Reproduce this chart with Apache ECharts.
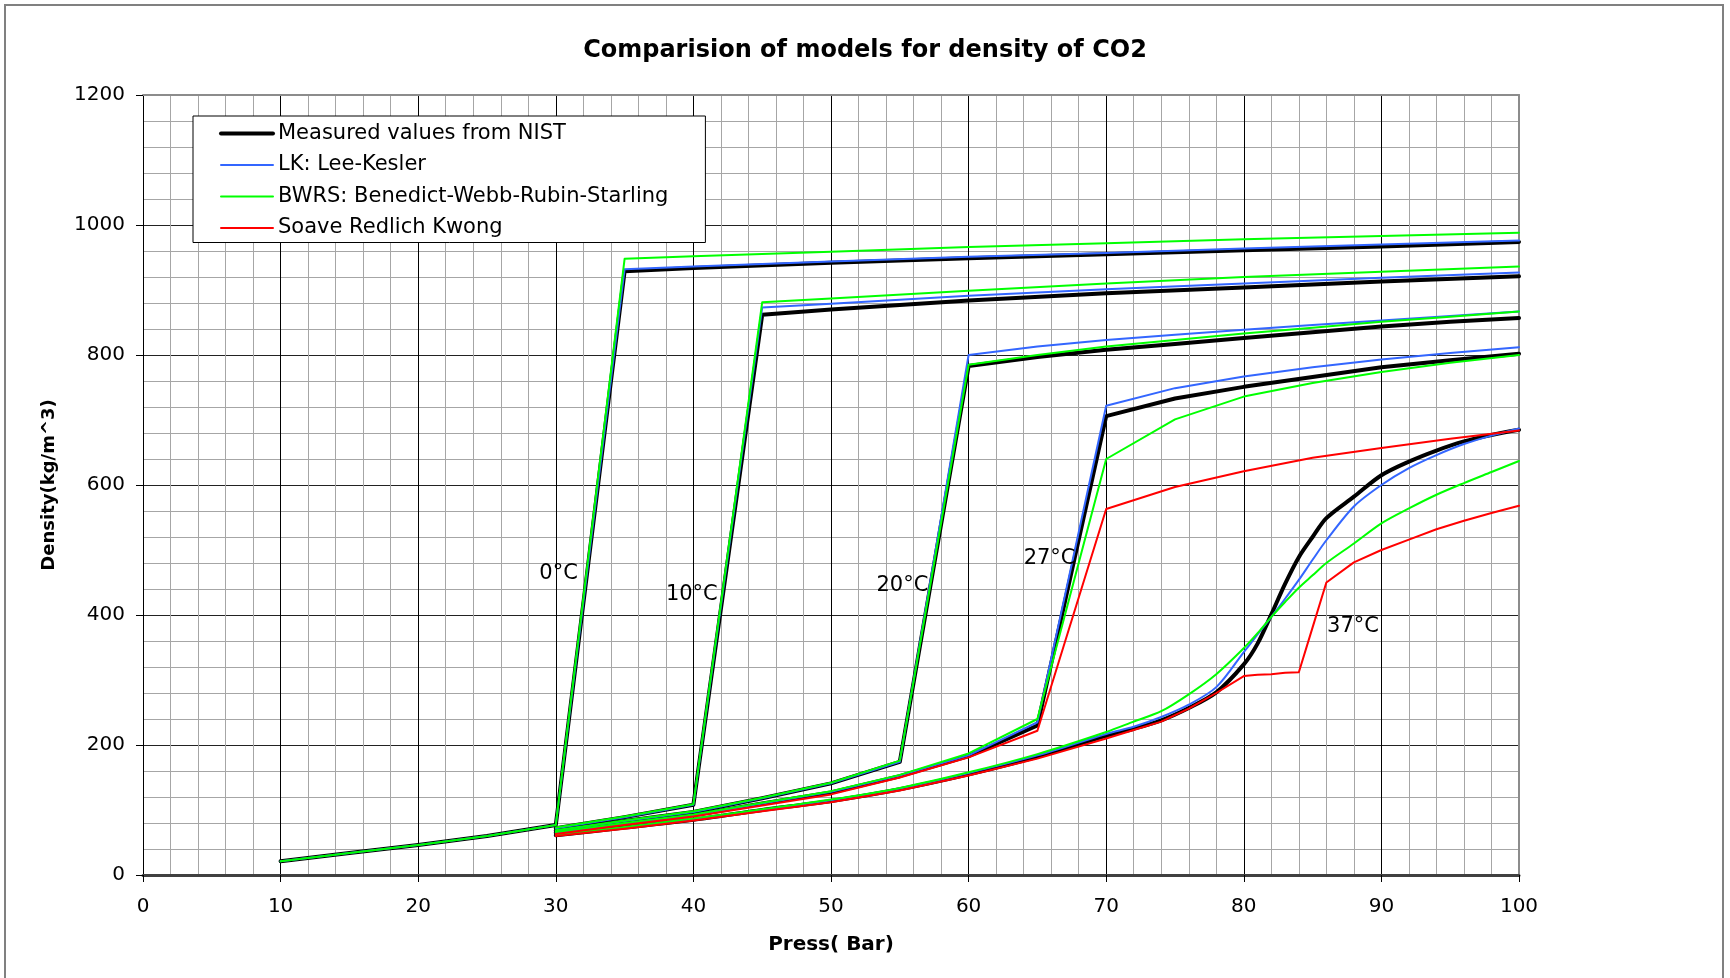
<!DOCTYPE html>
<html>
<head>
<meta charset="utf-8">
<script src="https://cdn.jsdelivr.net/npm/echarts@6/dist/echarts.min.js"></script>
<style>
  html, body { margin: 0; padding: 0; background: #fff; }
  #chart { width: 1730px; height: 978px; }
</style>
</head>
<body>
<div id="chart"></div>
<script>
// Pressure points (bar) of each isotherm
const press0  = [10, 15, 20, 25, 30, 35, 40, 50, 60, 70, 80, 90, 100];
const press10 = [30, 35, 40, 45, 50, 60, 70, 80, 90, 100];
const press20 = [30, 35, 40, 45, 50, 55, 60, 65, 70, 75, 80, 85, 90, 95, 100];
const press27 = [30, 35, 40, 45, 50, 55, 60, 65, 70, 75, 80, 85, 90, 95, 100];
const press37 = [30, 35, 40, 45, 50, 55, 60, 65, 70, 72, 74, 76, 78, 80, 81, 82, 83, 84, 85, 86, 88, 90, 92, 94, 96, 98, 100];

// Density (kg/m^3): measured values from NIST
const nist0  = [21, 34, 46, 60, 77, 929, 934, 942, 949, 955, 961, 967, 974];
const nist10 = [72, 89, 108, 862, 870, 884, 895, 904, 913, 921];
const nist20 = [68, 83, 97, 118, 141, 174, 783, 797, 808, 817, 826, 835, 844, 851, 857];
const nist27 = [65, 79, 92, 110, 127, 152, 183, 230, 706, 733, 751, 766, 781, 792, 802];
const nist37 = [61, 73, 85, 100, 114, 132, 155, 182, 214, 225, 238, 257, 281, 324, 356, 401, 448, 489, 520, 549, 582, 615, 636, 653, 667, 677, 685];

// Density (kg/m^3): Lee-Kesler
const lk0  = [21, 34, 46, 60, 77, 932, 936, 944, 951, 957, 964, 970, 976];
const lk10 = [72, 89, 108, 873, 879, 891, 901, 910, 919, 927];
const lk20 = [68, 83, 97, 118, 141, 174, 800, 813, 823, 831, 839, 846, 853, 860, 867];
const lk27 = [65, 79, 92, 110, 128, 153, 184, 235, 722, 749, 767, 781, 793, 803, 812];
const lk37 = [61, 73, 86, 100, 115, 133, 157, 184, 217, 228, 243, 262, 289, 343, 370, 397, 425, 454, 485, 515, 567, 600, 626, 646, 663, 676, 687];

// Density (kg/m^3): Benedict-Webb-Rubin-Starling
const bwrs0  = [21, 34, 46, 60, 77, 948, 952, 959, 966, 972, 978, 983, 988];
const bwrs10 = [73, 90, 109, 881, 887, 899, 910, 920, 928, 936];
const bwrs20 = [69, 84, 98, 119, 142, 176, 785, 800, 813, 823, 833, 842, 851, 859, 867];
const bwrs27 = [66, 80, 93, 111, 129, 154, 187, 240, 640, 701, 736, 757, 774, 788, 800];
const bwrs37 = [62, 74, 87, 101, 116, 134, 158, 186, 220, 236, 252, 278, 309, 349, 372, 397, 420, 442, 461, 480, 510, 541, 564, 585, 603, 620, 637];

// Density (kg/m^3): Soave Redlich Kwong
const srk27 = [63, 77, 90, 107, 124, 150, 181, 222, 563, 597, 621, 642, 657, 671, 684];
const srk37 = [60, 71, 84, 98, 112, 130, 153, 179, 210, 223, 236, 256, 280, 306, 308, 309, 311, 312, 381, 450, 481, 500, 516, 532, 545, 557, 568];

// Isotherm labels and where they sit (pressure, density)
const isoLabels = ['0°C', '10°C', '20°C', '27°C', '37°C'];
const isoLabelAt = [[28.8, 464], [38.0, 432], [53.3, 446], [64.0, 487], [86.05, 383]];

const seriesNames = [
  'Measured values from NIST',
  'LK: Lee-Kesler',
  'BWRS: Benedict-Webb-Rubin-Starling',
  'Soave Redlich Kwong'
];
const seriesColors = ['#000000', '#3366ff', '#00ff00', '#ff0000'];
const seriesWidths = [4, 2, 2, 2];

const FONT = 'DejaVu Sans';

function curve(k, press, dens, smooth) {
  return {
    name: seriesNames[k],
    type: 'line',
    data: press.map((p, i) => [p, dens[i]]),
    symbol: 'none',
    showSymbol: false,
    smooth: smooth || false,
    lineStyle: { color: seriesColors[k], width: seriesWidths[k], cap: 'round', join: 'round' },
    itemStyle: { color: seriesColors[k] },
    emphasis: { disabled: true },
    animation: false
  };
}

const series = [];
[[press0, nist0], [press10, nist10], [press20, nist20], [press27, nist27]]
  .forEach(([p, d]) => series.push(curve(0, p, d)));
series.push(curve(0, press37, nist37, 0.3));
[[press0, lk0], [press10, lk10], [press20, lk20], [press27, lk27]]
  .forEach(([p, d]) => series.push(curve(1, p, d)));
series.push(curve(1, press37, lk37, 0.3));
[[press0, bwrs0], [press10, bwrs10], [press20, bwrs20], [press27, bwrs27]]
  .forEach(([p, d]) => series.push(curve(2, p, d)));
series.push(curve(2, press37, bwrs37, 0.3));
[[press27, srk27], [press37, srk37]]
  .forEach(([p, d]) => series.push(curve(3, p, d)));

series.push({
  type: 'scatter',
  silent: true,
  symbolSize: 0,
  z: 10,
  itemStyle: { opacity: 1 },
  data: isoLabels.map((t, i) => ({ name: t, value: isoLabelAt[i] })),
  label: {
    show: true,
    position: [0, 0],
    align: 'left',
    verticalAlign: 'middle',
    formatter: p => p.name,
    fontFamily: FONT,
    fontSize: 21,
    color: '#000000',
    opacity: 1
  },
  animation: false
});

const chart = echarts.init(document.getElementById('chart'), null, { renderer: 'canvas' });
chart.setOption({
  animation: false,
  backgroundColor: '#ffffff',
  title: {
    text: 'Comparision of models for density of CO2',
    left: 'center',
    top: 39,
    padding: 0,
    textStyle: { fontFamily: FONT, fontSize: 24, fontWeight: 'bold', color: '#000' }
  },
  graphic: [{
    type: 'rect',
    shape: { x: 5, y: 5, width: 1718, height: 1000 },
    style: { fill: null, stroke: '#808080', lineWidth: 2 },
    silent: true,
    z: -10
  }],
  legend: {
    data: seriesNames.map((n, k) => ({
      name: n,
      lineStyle: { width: seriesWidths[k], color: seriesColors[k], cap: 'round' }
    })),
    orient: 'vertical',
    left: 193,
    top: 116,
    padding: [7, 37, 4, 26],
    itemGap: 10.5,
    itemWidth: 52,
    itemHeight: 14,
    backgroundColor: '#ffffff',
    borderColor: '#000000',
    borderWidth: 1,
    borderRadius: 0,
    selectedMode: false,
    itemStyle: { opacity: 0 },
    textStyle: { fontFamily: FONT, fontSize: 21, color: '#000' }
  },
  grid: {
    left: 143,
    right: 211,
    top: 95,
    bottom: 103,
    outerBoundsMode: 'none',
    containLabel: false
  },
  xAxis: [{
    type: 'value',
    min: 0,
    max: 100,
    interval: 10,
    name: 'Press( Bar)',
    nameLocation: 'middle',
    nameGap: 60,
    nameTextStyle: { fontFamily: FONT, fontSize: 20, fontWeight: 'bold', color: '#000' },
    axisLine: { show: true, onZero: false, lineStyle: { color: '#404040', width: 3 } },
    axisTick: { show: true, inside: false, length: 7, lineStyle: { color: '#000', width: 1 } },
    axisLabel: { margin: 22, fontFamily: FONT, fontSize: 20, color: '#000', formatter: v => String(v) },
    splitLine: { show: true, lineStyle: { color: '#000000', width: 1 } },
    minorTick: { show: false, splitNumber: 5 },
    minorSplitLine: { show: true, lineStyle: { color: '#a6a6a6', width: 1 } }
  }, {
    type: 'value',
    position: 'top',
    min: 0,
    max: 100,
    interval: 10,
    axisLine: { show: true, onZero: false, lineStyle: { color: '#8c8c8c', width: 2 } },
    axisTick: { show: false },
    axisLabel: { show: false },
    splitLine: { show: false }
  }],
  yAxis: [{
    type: 'value',
    min: 0,
    max: 1200,
    interval: 200,
    name: 'Density(kg/m^3)',
    nameLocation: 'middle',
    nameGap: 85,
    nameRotate: 90,
    nameTextStyle: { fontFamily: FONT, fontSize: 18, fontWeight: 'bold', color: '#000' },
    axisLine: { show: true, onZero: false, lineStyle: { color: '#000', width: 1 } },
    axisTick: { show: true, inside: false, length: 7, lineStyle: { color: '#000', width: 1 } },
    axisLabel: { margin: 18, fontFamily: FONT, fontSize: 20, color: '#000', formatter: v => String(v) },
    splitLine: { show: true, lineStyle: { color: '#222222', width: 1 } },
    minorTick: { show: false, splitNumber: 5 },
    minorSplitLine: { show: true, lineStyle: { color: '#a6a6a6', width: 1 } }
  }, {
    type: 'value',
    position: 'right',
    min: 0,
    max: 1200,
    interval: 200,
    axisLine: { show: true, onZero: false, lineStyle: { color: '#8c8c8c', width: 2 } },
    axisTick: { show: false },
    axisLabel: { show: false },
    splitLine: { show: false }
  }],
  series: series
});
</script>
</body>
</html>
